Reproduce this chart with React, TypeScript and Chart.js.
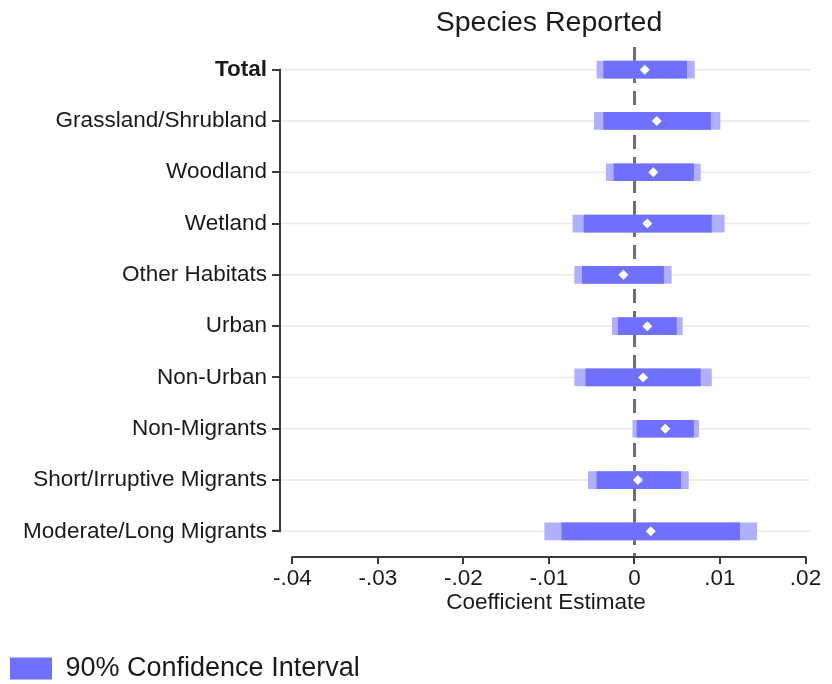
import React, { useEffect, useRef } from "react";
import { Chart, registerables } from "chart.js";

Chart.register(...registerables);

const categories = [
  "Total",
  "Grassland/Shrubland",
  "Woodland",
  "Wetland",
  "Other Habitats",
  "Urban",
  "Non-Urban",
  "Non-Migrants",
  "Short/Irruptive Migrants",
  "Moderate/Long Migrants",
];
const estimates = [0.0012, 0.0026, 0.0022, 0.0015, -0.0013, 0.0015, 0.001, 0.0036, 0.0004, 0.0019];
const ci90Low = [-0.0036, -0.0036, -0.0024, -0.0059, -0.0061, -0.0019, -0.0057, 0.0003, -0.0044, -0.0085];
const ci90High = [0.0061, 0.0089, 0.0069, 0.009, 0.0034, 0.0049, 0.0077, 0.0069, 0.0054, 0.0123];
const ci95Low = [-0.0044, -0.0047, -0.0033, -0.0072, -0.007, -0.0026, -0.007, -0.0002, -0.0054, -0.0105];
const ci95High = [0.007, 0.01, 0.0077, 0.0105, 0.0043, 0.0056, 0.009, 0.0075, 0.0063, 0.0143];
const xTicks = [-0.04, -0.03, -0.02, -0.01, 0, 0.01, 0.02];
const xTickLabels = ["-.04", "-.03", "-.02", "-.01", "0", ".01", ".02"];
const title = "Species Reported";
const xTitle = "Coefficient Estimate";
const legendLabel = "90% Confidence Interval";

const FONT = "'Liberation Sans', Arial, Helvetica, sans-serif";
const DARK = "#7070ff";
const LIGHT = "#b0b0ff";
const TEXT = "#1a1a1a";
const AXIS = "#3a3a3a";

const customPlugin = {
  id: "customAxes",
  beforeDatasetsDraw(chart: any) {
    const { ctx, chartArea, scales } = chart;
    const x = scales.x;
    const y = scales.y;
    ctx.save();
    ctx.strokeStyle = "#e9e9e9";
    ctx.lineWidth = 1.5;
    categories.forEach((_, i) => {
      const py = y.getPixelForValue(i);
      ctx.beginPath();
      ctx.moveTo(chartArea.left, py);
      ctx.lineTo(chartArea.right - 2, py);
      ctx.stroke();
    });
    const zx = x.getPixelForValue(0);
    ctx.strokeStyle = "#6e6e6e";
    ctx.lineWidth = 3;
    ctx.setLineDash([14, 8]);
    ctx.beginPath();
    ctx.moveTo(zx, chartArea.top + 3);
    ctx.lineTo(zx, chartArea.bottom);
    ctx.stroke();
    ctx.restore();
  },
  afterDraw(chart: any) {
    const { ctx, chartArea, scales } = chart;
    const x = scales.x;
    const y = scales.y;
    ctx.save();
    ctx.strokeStyle = AXIS;
    ctx.lineWidth = 2;
    ctx.setLineDash([]);
    ctx.beginPath();
    ctx.moveTo(x.getPixelForValue(xTicks[0]) - 1, chartArea.bottom);
    ctx.lineTo(x.getPixelForValue(xTicks[xTicks.length - 1]) + 1, chartArea.bottom);
    ctx.stroke();
    ctx.beginPath();
    ctx.moveTo(chartArea.left, y.getPixelForValue(0) - 1);
    ctx.lineTo(chartArea.left, y.getPixelForValue(categories.length - 1) + 1);
    ctx.stroke();
    ctx.fillStyle = TEXT;
    ctx.font = `28.5px ${FONT}`;
    ctx.textAlign = "center";
    ctx.textBaseline = "alphabetic";
    const cx = (x.getPixelForValue(xTicks[0]) + x.getPixelForValue(xTicks[xTicks.length - 1])) / 2;
    ctx.fillText(title, cx, 31);
    ctx.restore();
  },
};

export default function App() {
  const ref = useRef<HTMLCanvasElement | null>(null);

  useEffect(() => {
    if (!ref.current) return;
    Chart.defaults.font.family = FONT;
    const chart = new Chart(ref.current, {
      type: "bar",
      data: {
        labels: categories,
        datasets: [
          {
            type: "bar",
            label: "95% Confidence Interval",
            data: ci95Low.map((l, i) => [l, ci95High[i]]),
            backgroundColor: LIGHT,
            borderWidth: 0,
            barThickness: 17,
            grouped: false,
            order: 3,
          } as any,
          {
            type: "bar",
            label: legendLabel,
            data: ci90Low.map((l, i) => [l, ci90High[i]]),
            backgroundColor: DARK,
            borderWidth: 0,
            barThickness: 17,
            grouped: false,
            order: 2,
          } as any,
          {
            type: "line",
            label: "Estimate",
            indexAxis: "y",
            data: estimates,
            showLine: false,
            pointStyle: "rectRot",
            pointRadius: 5,
            pointBackgroundColor: "#ffffff",
            pointBorderWidth: 0,
            order: 1,
          } as any,
        ],
      },
      options: {
        indexAxis: "y",
        animation: false,
        responsive: false,
        maintainAspectRatio: false,
        layout: { padding: { top: 44, left: 6, right: 20, bottom: -8 } },
        plugins: {
          legend: {
            display: true,
            position: "bottom",
            align: "start",
            labels: {
              filter: (item: any) => item.datasetIndex === 1,
              boxWidth: 42,
              boxHeight: 22,
              padding: 4,
              color: TEXT,
              font: { size: 27, family: FONT },
            },
          },
          tooltip: { enabled: false },
          title: { display: false },
        },
        scales: {
          x: {
            type: "linear",
            min: -0.04146,
            max: 0.02076,
            afterBuildTicks: (s: any) => {
              s.ticks = xTicks.map((v) => ({ value: v }));
            },
            afterFit: (s: any) => {
              s.height = 94;
            },
            border: { display: false },
            grid: {
              drawOnChartArea: false,
              drawTicks: true,
              tickLength: 7,
              color: AXIS,
              lineWidth: 2,
            },
            ticks: {
              autoSkip: false,
              maxRotation: 0,
              padding: 1,
              color: TEXT,
              font: { size: 22.5, family: FONT },
              callback: (_v: any, i: number) => xTickLabels[i],
            },
            title: {
              display: true,
              text: xTitle,
              color: TEXT,
              font: { size: 22.5, family: FONT },
              padding: { top: 0, bottom: 35 },
            },
          },
          y: {
            type: "category",
            offset: true,
            afterFit: (s: any) => {
              s.width = 274;
            },
            border: { display: false },
            grid: {
              offset: false,
              drawOnChartArea: false,
              drawTicks: true,
              tickLength: 8,
              color: AXIS,
              lineWidth: 2,
            },
            ticks: {
              autoSkip: false,
              padding: 5,
              color: TEXT,
              font: (c: any) =>
                c.index === 0
                  ? { size: 22.5, family: FONT, weight: "bold" }
                  : { size: 22.5, family: FONT, weight: "normal" },
            },
          },
        },
      } as any,
      plugins: [customPlugin],
    });
    return () => chart.destroy();
  }, []);

  return (
    <div style={{ position: "absolute", left: 0, top: 0, width: 832, height: 684, background: "#fff" }}>
      <canvas ref={ref} width={832} height={684} style={{ display: "block", width: 832, height: 684 }} />
    </div>
  );
}
